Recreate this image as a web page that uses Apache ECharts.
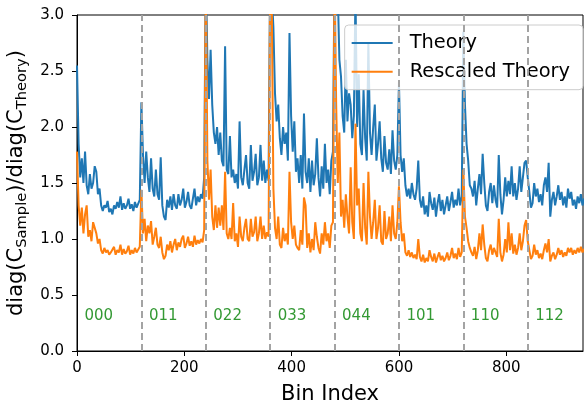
<!DOCTYPE html>
<html lang="en">
<head>
  <meta charset="UTF-8">
  <title>diag ratio</title>
  <script src="https://cdn.jsdelivr.net/npm/echarts@6/dist/echarts.min.js"></script>
  <style>
    html, body { margin: 0; padding: 0; background: #fff; }
  </style>
</head>
<body>
<div id="box" style="width: 584px;height: 401px;"></div>
<script>
  // one block of 120 bins per multipole group, values read every 3 bins
  var groups = ['000', '011', '022', '033', '044', '101', '110', '112'];
  var binsPerGroup = 120;
  var binStep = 3;

  var theory = [
    2.55,1.85,1.55,1.72,1.5,1.78,1.48,1.4,1.58,1.45,1.5,1.65,1.6,1.4,1.45,1.3,1.25,1.3,1.28,1.34,1.24,1.27,1.22,1.3,1.27,1.33,1.28,1.38,1.26,1.32,1.27,1.3,1.36,1.27,1.31,1.25,1.33,1.28,1.29,1.35,
    2.22,1.75,1.5,1.78,1.55,1.42,1.72,1.45,1.38,1.62,1.4,1.35,1.73,1.3,1.2,1.17,1.35,1.28,1.38,1.26,1.4,1.3,1.27,1.4,1.3,1.35,1.45,1.28,1.33,1.42,1.3,1.27,1.36,1.45,1.3,1.38,1.33,1.4,1.36,1.55,
    3.4,2.6,2.25,2.69,2.2,1.95,1.85,2.0,1.75,1.95,1.7,1.65,2.72,1.62,1.58,1.92,1.55,1.62,1.5,1.58,1.45,2.05,1.55,1.48,1.62,1.75,1.5,1.45,1.84,1.52,1.6,1.76,1.48,1.55,1.84,1.52,1.7,1.5,1.62,1.52,
    3.4,3.2,2.89,2.3,2.05,2.2,1.9,1.75,2.0,1.85,1.95,1.7,2.84,2.1,1.78,2.05,1.6,1.72,1.5,1.75,1.45,2.12,1.6,1.5,1.72,1.42,1.7,1.48,1.58,1.9,1.55,1.38,1.65,1.45,1.85,1.5,1.62,1.4,1.7,1.78,
    3.4,3.3,3.2,2.6,2.45,2.1,1.95,2.6,2.05,2.3,2.2,1.9,2.1,3.2,2.0,2.47,1.85,1.75,2.33,1.9,1.7,2.75,1.95,1.75,2.0,2.2,1.7,1.85,2.05,1.72,1.6,1.92,1.68,1.62,1.8,1.58,1.97,1.7,1.62,1.75,
    2.4,1.75,1.6,1.72,1.48,1.38,1.45,1.36,1.5,1.4,1.35,1.45,1.7,1.35,1.28,1.38,1.22,1.3,1.2,1.42,1.32,1.26,1.37,1.2,1.32,1.4,1.25,1.35,1.22,1.3,1.38,1.25,1.33,1.42,1.28,1.35,1.3,1.45,1.3,1.38,
    2.85,2.2,1.85,1.7,1.48,1.45,1.38,1.52,1.3,1.45,1.58,1.4,1.76,1.5,1.3,1.25,1.42,1.5,1.32,1.48,1.35,1.28,1.75,1.4,1.22,1.35,1.55,1.38,1.52,1.4,1.65,1.38,1.5,1.35,1.45,1.65,1.42,1.55,1.68,1.7,
    1.55,1.42,1.28,1.32,1.5,1.38,1.45,1.33,1.4,1.3,1.48,1.55,1.42,1.68,1.2,1.35,1.42,1.3,1.38,1.48,1.35,1.42,1.3,1.38,1.28,1.45,1.36,1.42,1.3,1.35,1.27,1.38,1.32,1.4,1.3,1.36,1.33,1.38,1.3,1.35
  ];

  var rescaled = [
    1.78,1.3,1.12,1.28,1.05,1.22,1.3,1.02,1.08,0.98,1.15,1.14,1.05,0.96,1.0,0.9,0.87,0.92,0.88,0.9,0.86,0.88,0.87,0.93,0.86,0.9,0.88,0.95,0.86,0.91,0.87,0.89,0.94,0.86,0.9,0.87,0.92,0.88,0.88,0.93,
    1.44,1.05,1.18,0.98,1.12,1.05,1.16,0.95,1.02,1.1,0.95,0.92,1.02,0.88,0.82,0.85,0.95,0.9,0.98,0.88,0.95,1.0,0.9,0.97,0.93,1.0,1.03,0.92,0.96,1.02,0.94,0.98,0.93,1.03,0.95,0.99,0.96,1.0,0.97,1.08,
    3.4,1.7,1.35,1.62,1.2,1.08,1.3,1.1,1.28,1.12,1.3,1.08,1.6,1.05,1.0,1.1,1.0,1.32,0.98,1.05,0.93,1.2,1.02,0.98,1.1,1.18,1.0,0.98,1.18,1.02,1.06,1.2,0.98,1.05,1.2,1.0,1.12,1.0,1.06,1.02,
    3.4,3.1,1.45,1.1,1.0,1.2,0.95,0.92,1.1,0.98,1.05,0.95,1.6,1.15,1.0,1.12,0.95,0.92,0.9,1.08,0.95,1.37,1.3,0.92,1.05,0.88,1.0,0.9,1.15,1.02,0.92,0.87,1.05,0.95,1.15,0.98,1.05,0.92,1.12,1.15,
    3.4,2.2,1.5,1.95,1.2,1.35,1.1,1.4,1.2,1.05,1.64,1.15,1.0,2.03,1.3,1.45,1.05,0.98,1.5,1.1,0.95,1.6,1.2,1.0,1.15,1.35,1.0,1.1,1.3,0.98,0.95,1.25,1.0,1.05,1.2,0.98,1.3,1.05,1.0,1.15,
    1.47,1.15,0.98,1.05,0.88,0.85,0.9,0.84,0.88,0.83,0.86,0.82,1.0,0.84,0.8,0.86,0.79,0.83,0.8,0.9,0.84,0.8,0.87,0.79,0.84,0.88,0.81,0.85,0.8,0.83,0.88,0.81,0.85,0.92,0.83,0.87,0.82,0.92,0.84,0.88,
    1.62,1.2,1.1,0.98,0.92,0.88,0.85,0.93,0.82,0.9,1.05,0.9,1.13,0.95,0.83,0.8,0.9,0.95,0.86,0.92,0.88,0.84,1.18,0.88,0.8,0.86,1.0,0.88,1.15,0.9,1.05,0.87,0.95,0.86,0.92,1.05,0.9,0.98,1.12,1.17,
    0.98,0.9,0.82,0.85,0.95,0.86,0.9,0.83,0.87,0.82,0.9,0.96,0.88,1.0,0.8,0.85,0.88,0.82,0.86,0.92,0.86,0.9,0.84,0.88,0.85,0.92,0.88,0.92,0.86,0.9,0.87,0.92,0.88,0.93,0.88,0.91,0.89,0.92,0.88,0.9
  ];

  var font = 'DejaVu Sans';
  var myChart = echarts.init(document.getElementById('box'));

  function toPoints(vals) {
    return vals.map(function (v, i) { return [i * binStep, v]; });
  }

  var boundaries = [];
  for (var g = 1; g < groups.length; g++) {
    boundaries.push({ xAxis: g * binsPerGroup });
  }
  var groupLabels = groups.map(function (name, g) {
    return [g * binsPerGroup + 14, 0.31, name];
  });

  var option = {
    animation: false,
    grid: {
      left: 77, right: 1, top: 15, bottom: 50, outerBoundsMode: 'none',
      show: true, borderColor: '#000', borderWidth: 1
    },
    legend: {
      right: 1, top: 25,
      orient: 'vertical',
      padding: [7, 13, 7, 7],
      icon: 'rect',
      itemWidth: 41, itemHeight: 2, itemGap: 6.7,
      backgroundColor: 'rgba(255,255,255,0.8)',
      borderColor: '#cccccc', borderWidth: 1, borderRadius: 4,
      textStyle: { fontFamily: font, fontSize: 19.4, color: '#000', lineHeight: 22, padding: [0, 0, 0, 12] },
      data: ['Theory', 'Rescaled Theory']
    },
    xAxis: {
      type: 'value', min: 0, max: 943, interval: 200,
      name: 'Bin Index', nameLocation: 'middle', nameGap: 33,
      nameTextStyle: { fontFamily: font, fontSize: 21, color: '#000' },
      axisLine: { lineStyle: { color: '#000' } },
      axisTick: { length: 5, lineStyle: { color: '#000' } },
      axisLabel: { fontFamily: font, fontSize: 15, color: '#000', margin: 10, showMaxLabel: false },
      splitLine: { show: false }
    },
    yAxis: {
      type: 'value', min: 0, max: 3, interval: 0.5,
      name: 'diag(C{sub|Sample})/diag(C{sub|Theory})',
      nameLocation: 'middle', nameRotate: 90, nameGap: 38,
      nameTextStyle: {
        fontFamily: font, fontSize: 21, color: '#000',
        rich: {
          sub: { fontFamily: font, fontSize: 14.7, color: '#000', padding: [10, 0, 0, 0] }
        }
      },
      axisLine: { lineStyle: { color: '#000' } },
      axisTick: { length: 5, lineStyle: { color: '#000' } },
      axisLabel: {
        fontFamily: font, fontSize: 15, color: '#000', margin: 13,
        formatter: function (v) { return v.toFixed(1); }
      },
      splitLine: { show: false }
    },
    series: [
      {
        name: 'dividers', type: 'line', data: [], z: 1, silent: true,
        markLine: {
          symbol: 'none', silent: true, label: { show: false },
          lineStyle: { color: '#a3a3a3', width: 2, type: [7, 4] },
          data: boundaries
        }
      },
      {
        name: 'Theory', type: 'line', data: toPoints(theory), z: 3,
        symbol: 'none', showSymbol: false,
        lineStyle: { color: '#1f77b4', width: 2 }, itemStyle: { color: '#1f77b4' }
      },
      {
        name: 'Rescaled Theory', type: 'line', data: toPoints(rescaled), z: 3,
        symbol: 'none', showSymbol: false,
        lineStyle: { color: '#ff7f0e', width: 2 }, itemStyle: { color: '#ff7f0e' }
      },
      {
        name: 'groups', type: 'scatter', data: groupLabels, symbolSize: 0, z: 4, silent: true,
        label: {
          show: true, position: 'right', distance: 0,
          fontFamily: font, fontSize: 15, color: '#008000',
          formatter: function (p) { return p.data[2]; }
        }
      }
    ]
  };
  myChart.setOption(option);
</script>
</body>
</html>
